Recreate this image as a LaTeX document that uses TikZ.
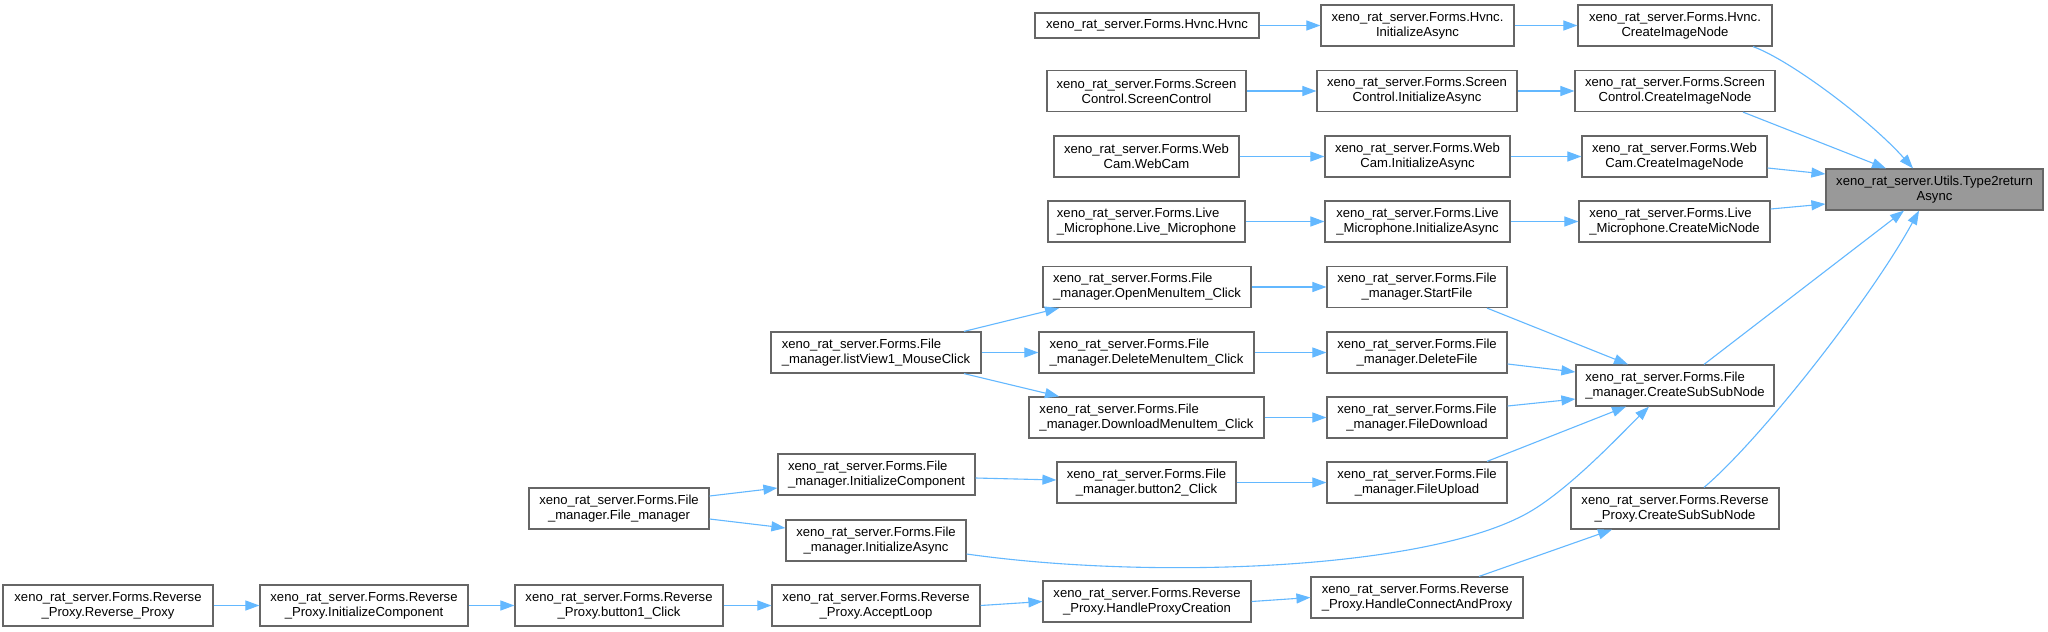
\documentclass[tikz,border=0pt]{standalone}
\usepackage{fontspec}
\setmainfont{Liberation Sans}
\usetikzlibrary{arrows.meta}
\definecolor{edgec}{HTML}{63B8FF}
\definecolor{bordc}{HTML}{666666}
\definecolor{hlc}{HTML}{999999}
\begin{document}
\begin{tikzpicture}[x=0.5pt,y=-0.5pt,
  box/.style={draw=bordc, line width=0.6pt, fill=white, minimum height=20.5pt,
    inner sep=0pt, font=\fontsize{6.55pt}{7.5pt}\selectfont, align=center},
  lbox/.style={box, align=left},
  edge/.style={draw=edgec, line width=0.55pt, -{Triangle[length=7pt,width=5pt]}}]
\useasboundingbox[fill=white] (0,0) rectangle (2048,631);

% column A
\node[box, fill=hlc, minimum width=108.5pt] (T) at (1934.5,189.5) {xeno\_rat\_server.Utils.Type2return\\Async};

% column B
\node[box, minimum width=97pt] (hC) at (1675,25.5) {xeno\_rat\_server.Forms.Hvnc.\\CreateImageNode};
\node[box, minimum width=100pt] (sC) at (1675,91) {xeno\_rat\_server.Forms.Screen\\Control.CreateImageNode};
\node[box, minimum width=92.5pt] (wC) at (1674.5,156.5) {xeno\_rat\_server.Forms.Web\\Cam.CreateImageNode};
\node[lbox, minimum width=95.5pt] (mC) at (1674.5,221.5) {xeno\_rat\_server.Forms.Live\\\_Microphone.CreateMicNode};
\node[lbox, minimum width=99pt] (fC) at (1675,385.5) {xeno\_rat\_server.Forms.File\\\_manager.CreateSubSubNode};
\node[box, minimum width=104pt] (rC) at (1675,508.5) {xeno\_rat\_server.Forms.Reverse\\\_Proxy.CreateSubSubNode};

% column C
\node[box, minimum width=96.5pt] (hI) at (1417.5,25.5) {xeno\_rat\_server.Forms.Hvnc.\\InitializeAsync};
\node[box, minimum width=100pt] (sI) at (1417,91) {xeno\_rat\_server.Forms.Screen\\Control.InitializeAsync};
\node[box, minimum width=92.5pt] (wI) at (1417.5,156.5) {xeno\_rat\_server.Forms.Web\\Cam.InitializeAsync};
\node[lbox, minimum width=92.5pt] (mI) at (1417.5,221.5) {xeno\_rat\_server.Forms.Live\\\_Microphone.InitializeAsync};
\node[box, minimum width=90pt] (fStart) at (1417,287) {xeno\_rat\_server.Forms.File\\\_manager.StartFile};
\node[box, minimum width=90pt] (fDel) at (1417,352.5) {xeno\_rat\_server.Forms.File\\\_manager.DeleteFile};
\node[box, minimum width=90pt] (fDown) at (1417,417.5) {xeno\_rat\_server.Forms.File\\\_manager.FileDownload};
\node[box, minimum width=90pt] (fUp) at (1417,482.5) {xeno\_rat\_server.Forms.File\\\_manager.FileUpload};
\node[lbox, minimum width=106pt] (rHC) at (1417,597.5) {xeno\_rat\_server.Forms.Reverse\\\_Proxy.HandleConnectAndProxy};

% column D
\node[box, minimum width=112pt, minimum height=12.5pt] (hH) at (1147,25.5) {xeno\_rat\_server.Forms.Hvnc.Hvnc};
\node[box, minimum width=99.5pt] (sS) at (1146.5,91) {xeno\_rat\_server.Forms.Screen\\Control.ScreenControl};
\node[box, minimum width=92.5pt] (wW) at (1146.5,156.5) {xeno\_rat\_server.Forms.Web\\Cam.WebCam};
\node[lbox, minimum width=98.5pt] (mM) at (1146.5,221.5) {xeno\_rat\_server.Forms.Live\\\_Microphone.Live\_Microphone};
\node[lbox, minimum width=104pt] (fOpen) at (1147,287) {xeno\_rat\_server.Forms.File\\\_manager.OpenMenuItem\_Click};
\node[lbox, minimum width=107.5pt] (fDelM) at (1146.5,352.5) {xeno\_rat\_server.Forms.File\\\_manager.DeleteMenuItem\_Click};
\node[lbox, minimum width=117.5pt] (fDownM) at (1146.5,417.5) {xeno\_rat\_server.Forms.File\\\_manager.DownloadMenuItem\_Click};
\node[box, minimum width=89.5pt] (fB2) at (1146.5,482.5) {xeno\_rat\_server.Forms.File\\\_manager.button2\_Click};
\node[box, minimum width=104pt] (rHP) at (1147,601.5) {xeno\_rat\_server.Forms.Reverse\\\_Proxy.HandleProxyCreation};

% column E
\node[lbox, minimum width=105pt] (fLV) at (876,352.5) {xeno\_rat\_server.Forms.File\\\_manager.listView1\_MouseClick};
\node[lbox, minimum width=98.5pt] (fIC) at (876.5,474.5) {xeno\_rat\_server.Forms.File\\\_manager.InitializeComponent};
\node[box, minimum width=90pt] (fIA) at (876,540.5) {xeno\_rat\_server.Forms.File\\\_manager.InitializeAsync};
\node[box, minimum width=104pt] (rAL) at (876,605.5) {xeno\_rat\_server.Forms.Reverse\\\_Proxy.AcceptLoop};

% column F
\node[box, minimum width=90pt] (fFM) at (619,508.5) {xeno\_rat\_server.Forms.File\\\_manager.File\_manager};
\node[box, minimum width=104pt] (rB1) at (619,605.5) {xeno\_rat\_server.Forms.Reverse\\\_Proxy.button1\_Click};

% columns G, H
\node[box, minimum width=104pt] (rIC) at (364,605.5) {xeno\_rat\_server.Forms.Reverse\\\_Proxy.InitializeComponent};
\node[box, minimum width=105pt] (rRP) at (108,605.5) {xeno\_rat\_server.Forms.Reverse\\\_Proxy.Reverse\_Proxy};

% edges: rows
\draw[edge] (hH.east) -- (hI.west);
\draw[edge] (hI.east) -- (hC.west);
\draw[edge] (sS.east) -- (sI.west);
\draw[edge] (sI.east) -- (sC.west);
\draw[edge] (wW.east) -- (wI.west);
\draw[edge] (wI.east) -- (wC.west);
\draw[edge] (mM.east) -- (mI.west);
\draw[edge] (mI.east) -- (mC.west);

% into Type2returnAsync
\draw[edge] ([xshift=39pt]hC.south) .. controls (1790,60) and (1870,120) .. ([xshift=-10.75pt]T.north);
\draw[edge] ([xshift=34pt]sC.south) -- ([xshift=-24.25pt]T.north);
\draw[edge] ([yshift=-5.75pt]wC.east) -- ([yshift=7.75pt]T.west);
\draw[edge] ([yshift=6.25pt]mC.east) -- ([yshift=-7.25pt]T.west);
\draw[edge] ([xshift=14.5pt]fC.north) -- ([xshift=-15.25pt]T.south);
\draw[edge] ([xshift=14.5pt]rC.north) .. controls (1760,440) and (1870,300) .. ([xshift=-7.75pt]T.south);

% File manager
\draw[edge] ([xshift=44pt]fLV.north) -- ([xshift=-44pt]fOpen.south);
\draw[edge] (fLV.east) -- (fDelM.west);
\draw[edge] ([xshift=44pt]fLV.south) -- ([xshift=-43.75pt]fDownM.north);
\draw[edge] (fOpen.east) -- (fStart.west);
\draw[edge] (fDelM.east) -- (fDel.west);
\draw[edge] (fDownM.east) -- (fDown.west);
\draw[edge] ([xshift=35pt]fStart.south) -- ([xshift=-23.5pt]fC.north);
\draw[edge] ([yshift=-5.75pt]fDel.east) -- ([yshift=6.75pt]fC.west);
\draw[edge] ([yshift=5.75pt]fDown.east) -- ([yshift=-6.75pt]fC.west);
\draw[edge] ([xshift=35pt]fUp.north) -- ([xshift=-24.5pt]fC.south);
\draw[edge] ([yshift=6.25pt]fFM.east) -- ([yshift=-6.75pt]fIC.west);
\draw[edge] ([yshift=-5.25pt]fFM.east) -- ([yshift=6.25pt]fIA.west);
\draw[edge] ([yshift=-1.75pt]fIC.east) -- ([yshift=1.25pt]fB2.west);
\draw[edge] (fB2.east) -- (fUp.west);
\draw[edge] ([yshift=-6.75pt]fIA.east) .. controls (1150,580) and (1420,570) .. (1524,515)
  .. controls (1566,493) and (1620,435) .. ([xshift=-13pt]fC.south);

% Reverse proxy
\draw[edge] (rRP.east) -- (rIC.west);
\draw[edge] (rIC.east) -- (rB1.west);
\draw[edge] (rB1.east) -- (rAL.west);
\draw[edge] (rAL.east) -- (rHP.west);
\draw[edge] (rHP.east) -- (rHC.west);
\draw[edge] ([xshift=31pt]rHC.north) -- ([xshift=-31.5pt]rC.south);
\end{tikzpicture}
\end{document}
